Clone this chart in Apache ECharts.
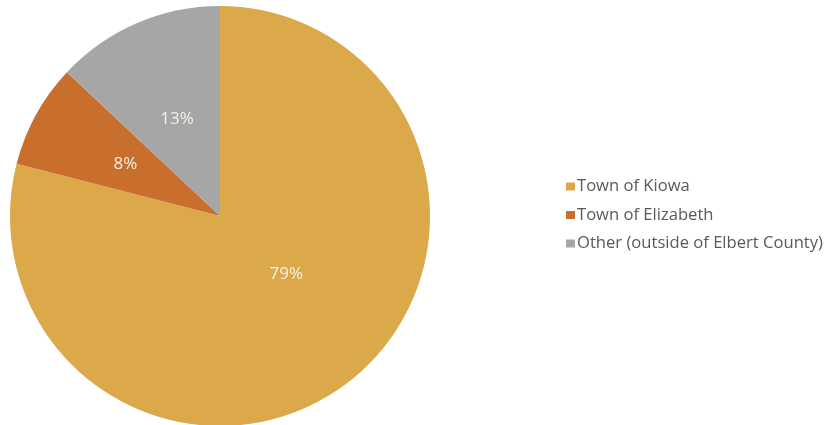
<!DOCTYPE html>
<html><head><meta charset="utf-8">
<script src="https://cdn.jsdelivr.net/npm/echarts@6/dist/echarts.min.js"></script>
<style>html,body{margin:0;padding:0;background:#fff}#c{width:829px;height:425px}</style>
</head><body><div id="c"></div>
<script>
const categories = ["Town of Kiowa", "Town of Elizabeth", "Other (outside of Elbert County)"];
const values = [79, 8, 13];
const colors = ["#DBA84A", "#C96F2E", "#A6A6A6"];
const labelOffsets = [[0, -27], [0, 0], [0, 2]];

const chart = echarts.init(document.getElementById('c'));
chart.setOption({
  animation: false,
  legend: {
    orient: 'vertical',
    left: 561,
    top: 173,
    icon: 'rect',
    itemWidth: 9,
    itemHeight: 8,
    itemGap: 11.5,
    textStyle: { fontFamily: 'Open Sans', fontSize: 16.6, color: '#595959', padding: [0,0,0,-3] },
    data: categories
  },
  series: [{
    type: 'pie',
    center: [220, 216],
    radius: 210,
    startAngle: 90,
    clockwise: true,
    silent: true,
    label: {
      show: true,
      position: 'inside',
      formatter: p => p.value + '%',
      color: '#F4F1EA',
      fontFamily: 'Open Sans',
      fontSize: 17
    },
    labelLine: { show: false },
    itemStyle: { borderWidth: 0 },
    data: categories.map((n, i) => ({
      name: n, value: values[i],
      itemStyle: { color: colors[i] },
      label: { offset: labelOffsets[i] }
    }))
  }]
});
</script></body></html>
